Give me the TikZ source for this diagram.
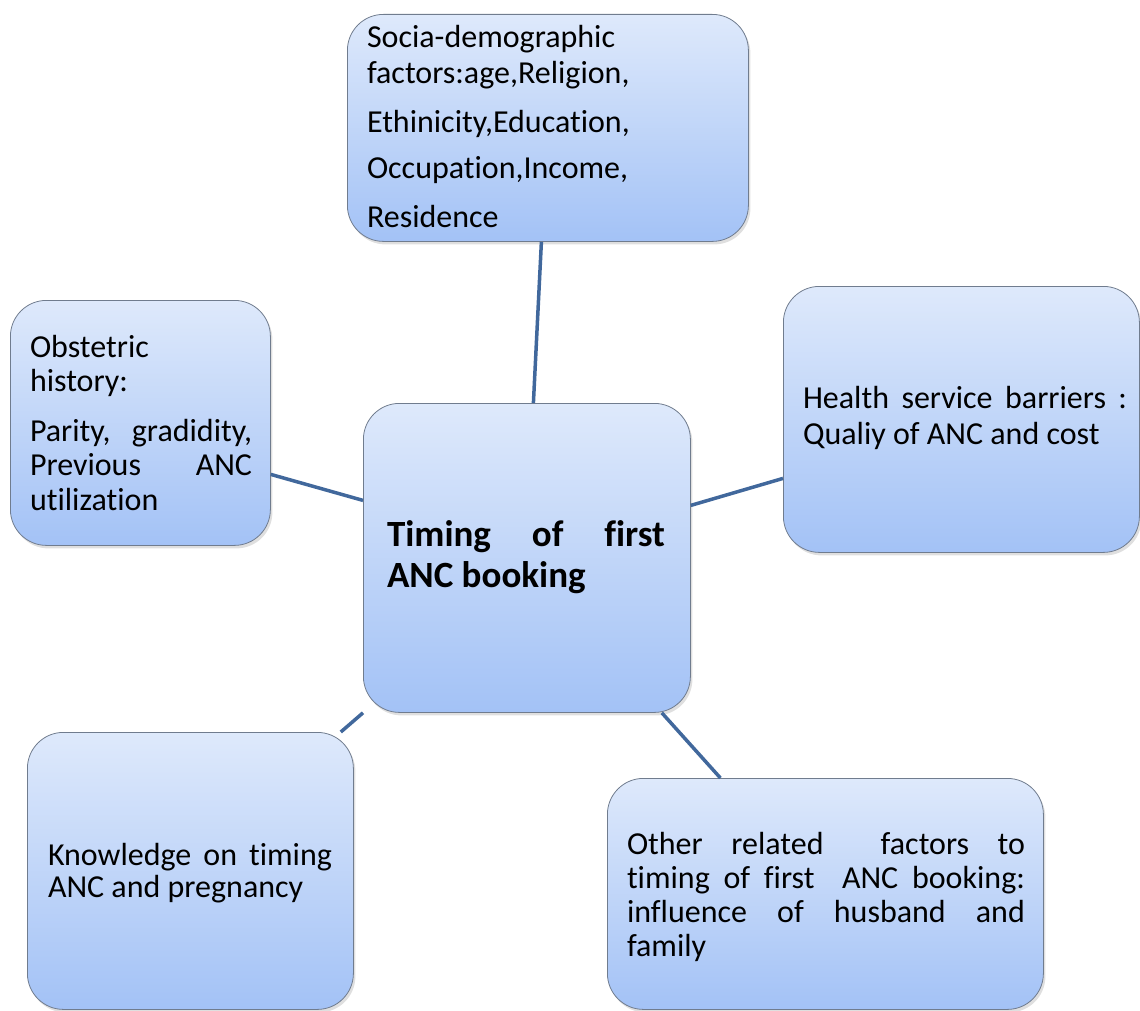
\documentclass[tikz,border=0pt]{standalone}
\usepackage{fontspec}
\setmainfont{Carlito}[Ligatures={NoCommon,NoContextual}]
\usetikzlibrary{calc,shadows}
\definecolor{boxtop}{RGB}{222,233,251}
\definecolor{boxbot}{RGB}{163,194,246}
\definecolor{boxedge}{RGB}{112,124,142}
\definecolor{linkc}{RGB}{65,104,156}
\begin{document}
\begin{tikzpicture}[x=1pt,y=-1pt,
  box/.style={draw=boxedge, line width=0.8pt, rounded corners=36pt,
    top color=boxtop, bottom color=boxbot, anchor=north west, inner sep=0pt,
    drop shadow={opacity=0.25, shadow xshift=2pt, shadow yshift=-3pt}},
  txt/.style={anchor=north west, inner sep=0pt, outer sep=0pt},
  jtxt/.style={txt, align=justify},
  link/.style={draw=linkc, line width=3.5pt}]
\useasboundingbox (0,0) rectangle (1140,1011);
% boxes
\node[box, minimum width=401, minimum height=227] (soc) at (347,14) {};
\node[box, minimum width=260, minimum height=245] (obs) at (10,300) {};
\node[box, minimum width=356, minimum height=266] (hea) at (783,286) {};
\node[box, minimum width=327, minimum height=309] (cen) at (363,403) {};
\node[box, minimum width=326, minimum height=277] (kno) at (27,732) {};
\node[box, minimum width=436, minimum height=231] (oth) at (607,778) {};
% texts
\node[txt, align=left, font=\fontsize{32}{36}\selectfont] (soct) at (367,22.5)
  {\strut Socia-demographic\\ factors:age,Religion,\\[13pt] Ethinicity,Education,\\[10pt] Occupation,Income,\\[13pt] Residence};
\node[jtxt, text width=222, font=\fontsize{32}{34.5}\selectfont] (obst) at (30,333)
  {\strut Obstetric\\ history:\par\vspace{15pt}Parity, gradidity,\linebreak Previous ANC\linebreak utilization};
\node[jtxt, text width=324, font=\fontsize{32}{36}\selectfont] (heat) at (803,383)
  {\strut Health service barriers :\linebreak Qualiy of ANC and cost};
\node[jtxt, text width=278, font=\fontsize{37}{41}\bfseries\selectfont] (cent) at (387,518)
  {\strut Timing of first\linebreak ANC booking};
\node[jtxt, text width=284, font=\fontsize{32}{32}\selectfont] (knot) at (48,843)
  {\strut Knowledge on timing\linebreak ANC and pregnancy};
\node[jtxt, text width=398, font=\fontsize{32}{34}\selectfont] (otht) at (627,831)
  {\strut Other related\ \ factors to\linebreak timing of first\ \ ANC booking:\linebreak influence of husband and\linebreak family};
% connectors
\draw[link] ([xshift=-6.5pt]soc.south) -- ([xshift=6.5pt]cen.north);
\draw[link] ([yshift=-51.5pt]obs.east) -- ([yshift=57.5pt]cen.west);
\draw[link] ([yshift=52.5pt]cen.east) -- ([yshift=-59pt]hea.west);
\draw[link] ([xshift=-13pt]kno.north east) -- (cen.south west);
\draw[link] ([xshift=-29pt]cen.south east) -- ([xshift=-105pt]oth.north);
\end{tikzpicture}
\end{document}
